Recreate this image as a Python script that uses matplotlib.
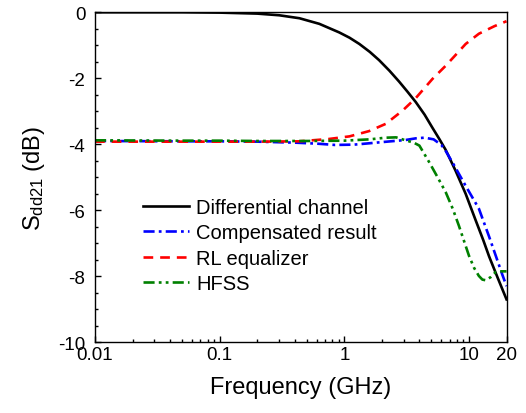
import matplotlib
matplotlib.use("Agg")
import matplotlib.pyplot as plt
from matplotlib.ticker import FixedLocator, FixedFormatter, MultipleLocator, NullFormatter

plt.rcParams['font.family'] = ['Liberation Sans', 'DejaVu Sans']
plt.rcParams['mathtext.fontset'] = 'custom'
plt.rcParams['mathtext.rm'] = 'Liberation Sans'
plt.rcParams['mathtext.it'] = 'Liberation Sans:italic'
plt.rcParams['lines.scale_dashes'] = False
plt.rcParams['axes.unicode_minus'] = False

# Differential channel
f_chan = [0.01, 0.05, 0.1, 0.2, 0.3, 0.436, 0.63, 0.91, 1.1, 1.32, 1.6, 1.9, 2.3, 2.75,
          3.2, 3.74, 4.4, 5.09, 5.8, 6.5, 7.8, 9.4, 11.3, 13.0, 14.5, 17.0, 20.0]
s_chan = [0.0, 0.0, -0.01, -0.04, -0.09, -0.18, -0.35, -0.61, -0.77, -0.96, -1.2, -1.45,
          -1.77, -2.1, -2.4, -2.72, -3.1, -3.5, -3.85, -4.17, -4.8, -5.5, -6.3, -6.9,
          -7.4, -8.05, -8.7]

# Compensated result
f_comp = [0.01, 0.05, 0.1, 0.2, 0.4, 0.6, 0.84, 1.2, 1.58, 2.2, 3.1, 3.74, 4.4, 5.2,
          6.0, 6.5, 7.5, 9.4, 12.0, 14.5, 16.4, 18.5, 20.0]
s_comp = [-3.9, -3.91, -3.91, -3.92, -3.95, -3.98, -4.02, -4.01, -3.97, -3.92, -3.87,
          -3.82, -3.8, -3.85, -4.02, -4.2, -4.6, -5.26, -5.95, -6.8, -7.38, -7.95, -8.3]

# RL equalizer
f_rl = [0.01, 0.05, 0.1, 0.2, 0.436, 0.75, 1.1, 1.58, 2.15, 2.93, 3.74, 5.09, 6.5,
        8.0, 9.4, 12.0, 16.0, 20.0]
s_rl = [-3.92, -3.92, -3.92, -3.92, -3.91, -3.84, -3.76, -3.6, -3.38, -2.98, -2.6,
        -2.02, -1.62, -1.25, -0.96, -0.65, -0.42, -0.27]

# HFSS
f_hfss = [0.01, 0.05, 0.1, 0.2, 0.5, 1.0, 1.6, 2.15, 2.6, 3.1, 3.6, 4.0, 4.79, 5.6,
          6.5, 7.4, 8.3, 10.0, 11.0, 12.0, 12.8, 13.6, 15.0, 16.4, 18.0, 20.0]
s_hfss = [-3.88, -3.89, -3.89, -3.9, -3.9, -3.89, -3.85, -3.8, -3.79, -3.88, -3.95,
          -4.04, -4.54, -5.0, -5.45, -5.95, -6.47, -7.38, -7.75, -7.99, -8.1, -8.12,
          -8.02, -7.87, -7.85, -7.85]

labels = ['Differential channel', 'Compensated result', 'RL equalizer', 'HFSS']

xticks = [0.01, 0.1, 1, 10, 20]
xticklabels = ['0.01', '0.1', '1', '10', '20']

fig = plt.figure(figsize=(5.26, 4.14), dpi=100)
ax = fig.add_axes([0.1806, 0.1708, 0.7824, 0.7971])

ax.plot(f_chan, s_chan, color='black', lw=1.9, ls='-', label=labels[0])
ax.plot(f_comp, s_comp, color='#0000ff', lw=1.9, ls=(0, (8, 3, 2, 3)), label=labels[1])
ax.plot(f_rl, s_rl, color='#ff0000', lw=1.9, ls=(0, (7, 5)), label=labels[2])
ax.plot(f_hfss, s_hfss, color='#008000', lw=1.9, ls=(0, (8, 3, 2, 3, 2, 3)), label=labels[3])

ax.set_xscale('log')
ax.set_xlim(0.01, 20)
ax.set_ylim(-10, 0)

ax.xaxis.set_major_locator(FixedLocator(xticks))
ax.xaxis.set_major_formatter(FixedFormatter(xticklabels))
minors = [m * d for d in (0.01, 0.1, 1) for m in range(2, 10)]
ax.xaxis.set_minor_locator(FixedLocator(minors))
ax.xaxis.set_minor_formatter(NullFormatter())

ax.yaxis.set_major_locator(MultipleLocator(2))
ax.yaxis.set_minor_locator(MultipleLocator(0.5))

ax.tick_params(which='both', direction='in', top=False, right=False, labelsize=13.5)
ax.tick_params(which='major', length=4.5, width=1.0)
ax.tick_params(which='minor', length=2.3, width=1.0)
ax.tick_params(axis='y', pad=7)
ax.tick_params(axis='x', pad=3)
for s in ax.spines.values():
    s.set_linewidth(1.0)

ax.set_xlabel('Frequency (GHz)', fontsize=17, labelpad=9)
ax.set_ylabel(r'S$_{\mathrm{dd21}}$ (dB)', fontsize=17, labelpad=8)

leg = ax.legend(loc='center left', bbox_to_anchor=(0.1166, 0.293), frameon=False,
                fontsize=14.5, handlelength=2.3, handletextpad=0.35, labelspacing=0.32,
                borderpad=0, borderaxespad=0)

fig.savefig('out.png', dpi=100)
